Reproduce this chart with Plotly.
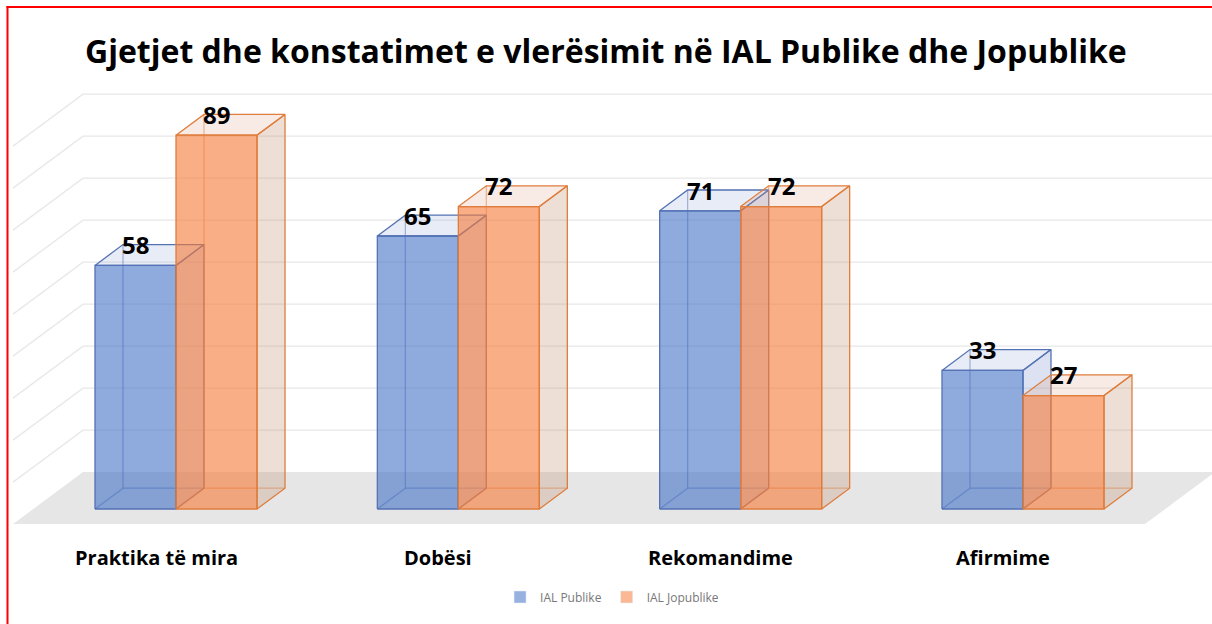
import plotly.graph_objects as go

# ---------------- data ----------------
categories = ["Praktika të mira", "Dobësi", "Rekomandime", "Afirmime"]
ial_publike = [58, 65, 71, 33]
ial_jopublike = [89, 72, 72, 27]
series_names = ["IAL Publike", "IAL Jopublike"]
grid_values = [10, 20, 30, 40, 50, 60, 70, 80, 90]
title_text = "Gjetjet dhe konstatimet e vlerësimit në IAL Publike dhe Jopublike"

# ---------------- geometry / style ----------------
W_PX, H_PX = 1212, 624
PX = 282.33          # pixels per category step
PY = 4.2             # pixels per value unit
X0_PX = 176          # pixel x of first category (front plane)
Y0_PX = 509          # pixel y of value 0 (front plane)
BAR_W = 81 / PX
DX = 70 / PX         # full floor depth shift in x (category units)
DY = 52 / PY         # full floor depth shift in y (value units)
D0 = 0.29            # depth fraction of bar front plane
BD = 0.40            # bar depth fraction
XL = (13 - X0_PX) / PX + D0 * DX
XR = (1145 - X0_PX) / PX + D0 * DX

FONT = "Open Sans"
styles = [
    dict(front="rgba(68,114,196,0.60)", top="rgba(140,160,210,0.20)",
         side="rgba(140,160,210,0.30)", edge="rgb(84,114,180)",
         hidden="rgba(84,114,180,0.55)", legend="rgba(68,114,196,0.55)"),
    dict(front="rgba(245,125,60,0.62)", top="rgba(225,160,130,0.22)",
         side="rgba(200,150,120,0.30)", edge="rgb(222,125,60)",
         hidden="rgba(222,125,60,0.55)", legend="rgba(245,125,60,0.55)"),
]


def P(x, v, d):
    return x + (d - D0) * DX, v + (d - D0) * DY


fig = go.Figure()

# floor
floor_pts = [P(XL, 0, 0), P(XR, 0, 0), P(XR, 0, 1), P(XL, 0, 1), P(XL, 0, 0)]
fig.add_trace(go.Scatter(x=[p[0] for p in floor_pts], y=[p[1] for p in floor_pts],
                         fill="toself", fillcolor="rgb(230,230,230)", mode="lines",
                         line=dict(width=0), hoverinfo="skip", showlegend=False))

# gridlines (left wall + back wall)
gx, gy = [], []
for v in grid_values:
    for p in (P(XL, v, 0), P(XL, v, 1), P(XR + 0.05, v, 1)):
        gx.append(p[0]); gy.append(p[1])
    gx.append(None); gy.append(None)
fig.add_trace(go.Scatter(x=gx, y=gy, mode="lines", line=dict(color="rgb(232,232,232)", width=1.4),
                         hoverinfo="skip", showlegend=False))


def add_box(x0, x1, v, st):
    Db = D0 + BD
    # hidden edges
    hx, hy = [], []
    for seg in ((P(x0, 0, Db), P(x0, v, Db)), (P(x0, 0, Db), P(x1, 0, Db)), (P(x0, 0, D0), P(x0, 0, Db))):
        hx += [seg[0][0], seg[1][0], None]
        hy += [seg[0][1], seg[1][1], None]
    fig.add_trace(go.Scatter(x=hx, y=hy, mode="lines", line=dict(color=st["hidden"], width=1.2),
                             hoverinfo="skip", showlegend=False))
    faces = [
        ([P(x1, 0, D0), P(x1, 0, Db), P(x1, v, Db), P(x1, v, D0)], st["side"]),
        ([P(x0, v, D0), P(x1, v, D0), P(x1, v, Db), P(x0, v, Db)], st["top"]),
        ([P(x0, 0, D0), P(x1, 0, D0), P(x1, v, D0), P(x0, v, D0)], st["front"]),
    ]
    for pts, col in faces:
        pts = pts + [pts[0]]
        fig.add_trace(go.Scatter(x=[p[0] for p in pts], y=[p[1] for p in pts], mode="lines",
                                 fill="toself", fillcolor=col,
                                 line=dict(color=st["edge"], width=1.3),
                                 hoverinfo="skip", showlegend=False))


annotations = []
for i, cat in enumerate(categories):
    for s, vals in enumerate([ial_publike, ial_jopublike]):
        v = vals[i]
        x0 = i - BAR_W if s == 0 else i
        x1 = x0 + BAR_W
        add_box(x0, x1, v, styles[s])
        annotations.append(dict(x=(x0 + x1) / 2, y=v + BD * DY, xref="x", yref="y",
                                text=str(v), showarrow=False, yanchor="middle",
                                font=dict(family=FONT, size=24, color="black", weight="bold")))
    annotations.append(dict(x=i - 20 / PX, y=(Y0_PX - 557) / PY, xref="x", yref="y",
                            text=cat, showarrow=False, yanchor="middle",
                            font=dict(family=FONT, size=20, color="black", weight="bold")))

annotations.append(dict(x=0.5, y=1 - 50 / H_PX, xref="paper", yref="paper", text=title_text,
                        showarrow=False, xanchor="center", yanchor="middle",
                        font=dict(family=FONT, size=32, color="black", weight="bold")))

# legend entries
for s, name in enumerate(series_names):
    fig.add_trace(go.Bar(x=[None], y=[None], name=name, marker=dict(color=styles[s]["legend"]),
                         hoverinfo="skip"))

fig.update_layout(
    width=W_PX, height=H_PX,
    margin=dict(l=0, r=0, t=0, b=0),
    paper_bgcolor="white", plot_bgcolor="white",
    xaxis=dict(range=[-X0_PX / PX, (W_PX - X0_PX) / PX], visible=False, fixedrange=True),
    yaxis=dict(range=[-(H_PX - Y0_PX) / PY, Y0_PX / PY], visible=False, fixedrange=True),
    annotations=annotations,
    showlegend=True,
    legend=dict(orientation="h", x=0.505, xanchor="center", y=1 - 597 / H_PX, yanchor="middle",
                font=dict(family=FONT, size=12, color="rgb(120,120,120)"),
                itemwidth=30, bgcolor="rgba(0,0,0,0)"),
    shapes=[
        dict(type="line", xref="paper", yref="paper", x0=7.5 / W_PX, x1=7.5 / W_PX,
             y0=1 - 6 / H_PX, y1=0, line=dict(color="red", width=2)),
        dict(type="line", xref="paper", yref="paper", x0=6.5 / W_PX, x1=1,
             y0=1 - 7 / H_PX, y1=1 - 7 / H_PX, line=dict(color="red", width=2)),
    ],
)

fig.write_html("out.html", config={"displayModeBar": False},
               post_script="document.body.style.margin='0';document.body.style.overflow='hidden';")
